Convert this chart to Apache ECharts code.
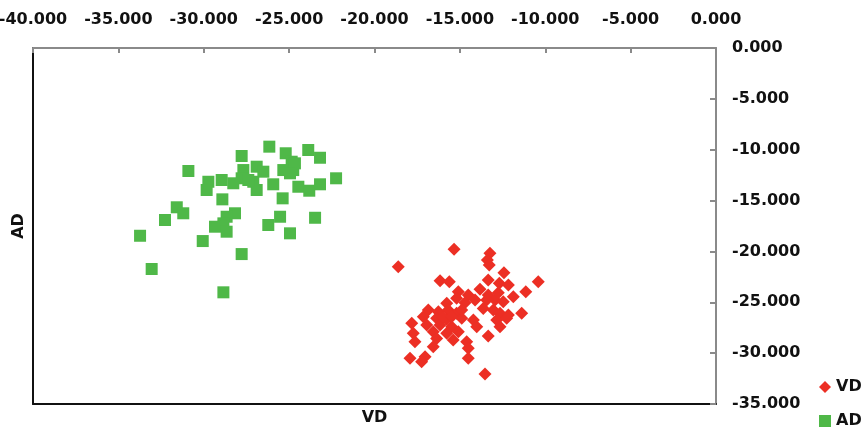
<!DOCTYPE html>
<html>
<head>
<meta charset="utf-8">
<script src="https://cdn.jsdelivr.net/npm/echarts@6/dist/echarts.min.js"></script>
<style>
  html, body { margin: 0; padding: 0; background: #fff; }
  #main { width: 863px; height: 431px; }
</style>
</head>
<body>
<div id="main"></div>
<script>
// 数据 (x = VD, y = AD)
var vdPoints = [
  [-15.34, -19.79], [-18.61, -21.50], [-13.24, -20.19], [-13.39, -20.85], [-13.28, -21.34],
  [-12.42, -22.09], [-13.34, -22.81], [-10.41, -22.98], [-16.16, -22.88], [-15.62, -22.98],
  [-12.69, -23.14], [-12.16, -23.30], [-13.82, -23.73], [-11.14, -23.96], [-15.09, -23.96],
  [-14.51, -24.29], [-13.34, -24.29], [-11.87, -24.45], [-15.19, -24.61], [-14.11, -24.78],
  [-12.94, -24.78], [-12.46, -24.95], [-15.77, -25.10], [-14.70, -25.04], [-13.63, -25.60],
  [-16.85, -25.76], [-16.26, -25.93], [-15.68, -25.76], [-15.19, -26.09], [-13.04, -25.76],
  [-12.65, -26.09], [-12.16, -26.25], [-11.38, -26.09], [-17.14, -26.42], [-16.36, -26.58],
  [-15.77, -26.68], [-14.89, -26.58], [-14.21, -26.75], [-12.84, -26.75], [-12.26, -26.58],
  [-17.82, -27.07], [-16.94, -27.24], [-16.16, -27.24], [-15.48, -27.40], [-14.01, -27.40],
  [-12.65, -27.40], [-17.73, -28.05], [-16.56, -27.90], [-15.77, -28.05], [-15.09, -27.90],
  [-13.34, -28.32], [-17.63, -28.88], [-16.36, -28.55], [-15.39, -28.71], [-14.60, -28.88],
  [-16.56, -29.37], [-14.51, -29.53], [-17.92, -30.51], [-17.04, -30.35], [-14.51, -30.51],
  [-13.53, -32.06], [-17.24, -30.85], [-15.97, -26.48], [-15.48, -26.42], [-14.89, -25.76],
  [-13.43, -24.78], [-12.75, -24.06]
];

var adPoints = [
  [-26.16, -9.70], [-27.78, -10.62], [-25.20, -10.35], [-23.88, -10.03], [-23.19, -10.79],
  [-24.85, -11.18], [-30.90, -12.09], [-26.90, -11.67], [-26.51, -12.16], [-25.34, -12.00],
  [-24.76, -12.00], [-24.66, -11.34], [-22.25, -12.81], [-27.68, -12.00], [-27.78, -12.81],
  [-28.95, -12.98], [-29.73, -13.15], [-29.83, -13.96], [-28.27, -13.30], [-27.10, -13.15],
  [-26.90, -13.96], [-25.93, -13.40], [-24.46, -13.64], [-23.82, -14.03], [-23.19, -13.40],
  [-28.91, -14.88], [-25.38, -14.78], [-31.58, -15.66], [-31.20, -16.25], [-32.27, -16.91],
  [-28.17, -16.25], [-28.66, -16.59], [-28.85, -17.24], [-29.34, -17.57], [-28.66, -18.06],
  [-25.53, -16.59], [-26.22, -17.40], [-24.95, -18.22], [-23.48, -16.69], [-33.73, -18.46],
  [-30.06, -18.98], [-27.78, -20.26], [-33.05, -21.73], [-28.85, -24.02], [-27.39, -12.98],
  [-24.95, -12.32]
];

var seriesNames = ['VD', 'AD'];

var myChart = echarts.init(document.getElementById('main'));

var labelStyle = {
  fontFamily: 'DejaVu Sans',
  fontWeight: 'bold',
  fontSize: 16,
  color: '#111'
};

// 图例：两个单独的图例，避免换列
function makeLegend(name, top) {
  return {
    orient: 'vertical',
    left: 819,
    top: top,
    padding: 0,
    itemGap: 0,
    itemWidth: 12,
    itemHeight: 12,
    data: [name],
    textStyle: labelStyle
  };
}

option = {
  animation: false,
  backgroundColor: '#fff',
  grid: {
    left: 33,
    right: 147,
    top: 48,
    bottom: 27,
    outerBoundsMode: 'none'
  },
  legend: [makeLegend(seriesNames[0], 379), makeLegend(seriesNames[1], 413)],
  xAxis: [{
      type: 'value',
      position: 'top',
      min: -40,
      max: 0,
      interval: 5,
      axisLine: { show: true, lineStyle: { color: '#8a8a8a', width: 2 } },
      axisTick: { show: true, inside: true, length: 5, lineStyle: { color: '#8a8a8a', width: 2 } },
      axisLabel: Object.assign({ margin: 20, formatter: function (v) { return v.toFixed(3); } }, labelStyle),
      splitLine: { show: false }
    },
    {
      type: 'value',
      position: 'bottom',
      min: -40,
      max: 0,
      name: 'VD',
      nameLocation: 'middle',
      nameGap: 6,
      nameTextStyle: labelStyle,
      axisLine: { show: true, onZero: false, lineStyle: { color: '#111', width: 2 } },
      axisTick: { show: false },
      axisLabel: { show: false },
      splitLine: { show: false }
    }
  ],
  yAxis: [{
      type: 'value',
      position: 'right',
      min: -35,
      max: 0,
      interval: 5,
      axisLine: { show: true, lineStyle: { color: '#8a8a8a', width: 2 } },
      axisTick: { show: true, inside: true, length: 6, lineStyle: { color: '#8a8a8a', width: 2 } },
      axisLabel: Object.assign({ margin: 16, formatter: function (v) { return v.toFixed(3); } }, labelStyle),
      splitLine: { show: false }
    },
    {
      type: 'value',
      position: 'left',
      min: -35,
      max: 0,
      name: 'AD',
      nameLocation: 'middle',
      nameGap: 6,
      nameTextStyle: labelStyle,
      axisLine: { show: true, onZero: false, lineStyle: { color: '#111', width: 2 } },
      axisTick: { show: false },
      axisLabel: { show: false },
      splitLine: { show: false }
    }
  ],
  series: [{
      name: 'VD',
      type: 'scatter',
      symbol: 'diamond',
      symbolSize: 13,
      itemStyle: { color: '#ec2f24', opacity: 1 },
      data: vdPoints
    },
    {
      name: 'AD',
      type: 'scatter',
      symbol: 'rect',
      symbolSize: 12,
      itemStyle: { color: '#4fb848', opacity: 1 },
      data: adPoints
    }
  ]
};

myChart.setOption(option);
</script>
</body>
</html>
